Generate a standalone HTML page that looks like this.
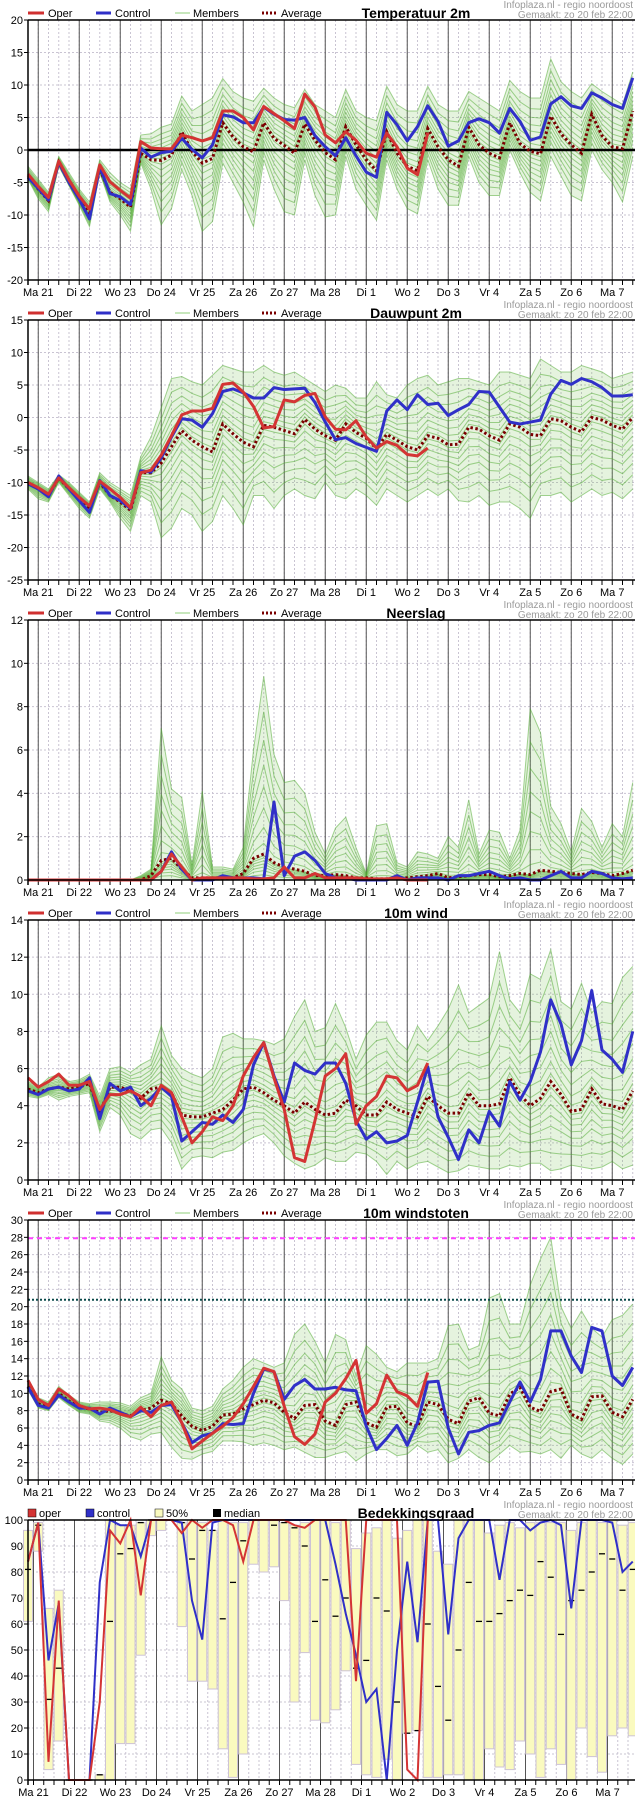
<!DOCTYPE html>
<html><head><meta charset="utf-8">
<style>
html,body{margin:0;padding:0;background:#fff;}
svg{display:block;font-family:"Liberation Sans",sans-serif;}
</style></head>
<body>
<svg id="chart" xmlns="http://www.w3.org/2000/svg" width="635" height="1800" viewBox="0 0 635 1800"></svg>
<script>
const dayLabels = ["Ma 21","Di 22","Wo 23","Do 24","Vr 25","Za 26","Zo 27","Ma 28","Di 1","Wo 2","Do 3","Vr 4","Za 5","Zo 6","Ma 7"];

const tempTicks = [20,15,10,5,0,-5,-10,-15,-20];
const tempOper = [-3.7,-5.6,-7.3,-1.7,-4.6,-7.1,-9.1,-2.3,-4.9,-6.2,-7.4,1.3,0.3,0.2,0.2,2.3,1.9,1.4,1.9,6,6,5,3.1,6.7,5.6,4.5,3.3,8.6,6.6,2.3,1.1,2.8,1.5,-0.5,-1.1,2.6,0.5,-2.8,-3.8,2.6];
const tempControl = [-4.2,-5.9,-7.7,-1.9,-5,-7.6,-10.6,-2.6,-6.7,-7.2,-8.4,0.3,-1.1,-0.4,-0.2,1.8,0.1,-1.2,0.8,5.4,5.1,4.2,4.2,6.6,5.5,4.7,4.6,5.0,2.2,0.5,-0.9,1.9,-0.9,-3.4,-4.2,5.8,3.9,1.4,3.6,6.8,4.4,0.6,1.4,4.2,4.8,4.2,2.6,6.4,4.4,1.5,2.0,7.1,8.2,6.8,6.4,8.8,8.0,7.0,6.4,11.1];
const tempAvg = [-4,-6,-7.8,-1.9,-5,-7.5,-10,-3,-6.5,-7.5,-8.8,-0.5,-1.5,-1.6,-0.8,2.8,-0.2,-2,-1.3,4.2,2.0,0.5,-0.3,4.2,1.8,0.7,-0.5,4.0,1.5,-0.4,-1.5,3.6,0.8,-1.5,-3.2,2.8,-0.5,-2.5,-3.2,3.3,0.5,-1.5,-2.5,3.5,0.8,-0.5,-1.2,4.2,1.0,-0.2,-0.6,5.2,2.5,0.8,-0.5,5.5,2.2,0.5,0.2,6.0];
const tempHi = [-2.5,-4.5,-6.5,-1,-3.5,-6,-8,-1.5,-3.5,-5,-6,2.3,2.5,3.5,4,8.3,6,7,8,11,9,8,7.5,9.5,8,7,6.5,9.3,7,6,5,9.3,6,5,4.5,9.8,7,6,6,9.8,7,6,6,9,8,7,6,10.7,9,8,8,14,10.5,9,8,10.2,9,8,7,12];
const tempLo = [-4.5,-7.5,-9.5,-2.5,-5.5,-8.5,-11.8,-3.5,-8,-10,-12.5,-2,-6,-11.5,-9,-3,-7,-12.5,-11,-2,-5,-8,-11.8,-1.5,-6,-9.5,-10,-1.5,-7,-10.3,-10,-1,-6,-8.5,-10.8,-1.5,-6,-9,-9.8,-1.5,-6,-8.5,-8.5,-1,-5,-7,-7,0,-3.5,-6.5,-7.8,-1,-4,-7,-7.8,0,-3,-5,-8,-1];

const dewTicks = [15,10,5,0,-5,-10,-15,-20,-25];
const dewOper = [-10,-10.8,-11.8,-9.3,-10.8,-12.3,-13.6,-9.8,-11,-12.3,-13.9,-8.5,-8.1,-5.8,-2.8,0.4,1.0,1.0,1.4,5.1,5.3,3.9,1.7,-1.6,-1.4,2.7,2.4,3.4,3.7,0.1,-1.8,-1.9,-0.5,-3,-4.7,-3.7,-4.3,-5.7,-5.9,-4.7];
const dewControl = [-10.2,-11,-12.2,-9,-11,-12.8,-14.6,-9.7,-12,-12.8,-14,-8.2,-8.4,-6.2,-3,-0.2,-0.4,-1.5,0.6,4.0,4.4,3.8,3.0,3.0,4.6,4.3,4.4,4.5,2.3,-0.7,-3.4,-3.1,-4,-4.6,-5.2,1.0,2.7,1.2,3.5,2.0,2.2,0.3,1.2,2.0,4.0,3.9,1.6,-0.7,-1.0,-0.7,-0.4,3.6,5.7,5.1,6.0,5.5,4.6,3.3,3.3,3.5];
const dewAvg = [-10,-11,-12,-9.3,-11,-12.5,-14,-10,-12,-13,-14.3,-8.5,-8.5,-7,-4.5,-2,-3.5,-4.5,-5.3,-1,-2.5,-3.8,-4.5,-1.2,-1.5,-2,-2.5,-0.3,-1.8,-2.8,-3.5,-1.0,-2.3,-3.2,-4.8,-2.6,-3.5,-4.5,-5,-2.8,-3.2,-4.2,-4.1,-1.5,-1.8,-2.8,-3.5,-1.0,-1.5,-2.6,-2.8,-0.2,-0.5,-1.5,-2.2,0,-0.4,-1.2,-1.8,0];
const dewHi = [-9,-10,-11,-8.8,-10,-11.5,-13,-8.5,-10,-11,-12,-6,-3,1.5,6,6.3,5.5,5,6.5,8,7.5,7,7,8,7,6.5,7,6,5,4,5,4.5,3,3,5.5,3.5,3,5,6,6.5,5,5.5,6,6,5.5,5,7,7,6.5,6,9,8,7,7,8,7.5,7,6,6.5,7];
const dewLo = [-11,-12.5,-13,-10,-12,-14,-15.5,-11,-13,-15.5,-17.5,-12,-13,-18.5,-17,-14,-15,-17.5,-16,-12,-14,-16.5,-12,-12,-14,-12,-11,-12,-12.5,-10,-12,-12.5,-11,-12,-13.5,-11,-12,-13,-12,-11,-12,-11,-12.8,-13,-12,-13.5,-13,-13,-14,-15.5,-12,-12,-11.5,-13,-12,-11,-12,-11.5,-12.5,-11];

const rainTicks = [12,10,8,6,4,2,0];
const rainOper = [0,0,0,0,0,0,0,0,0,0,0,0,0,0.4,1.2,0.6,0,0.1,0.1,0.1,0.1,0.1,0.05,0.05,0.1,0.6,0.1,0.1,0.3,0.1,0.1,0.1,0.1,0.05,0.05,0.05,0.1,0,0,0];
const rainControl = [0,0,0,0,0,0,0,0,0,0,0,0,0,0.4,1.3,0.5,0,0,0,0.2,0.1,0.1,0.1,0.05,3.6,0.2,1.1,1.3,0.9,0.3,0.1,0.1,0,0,0,0,0.2,0,0.1,0.1,0.1,0,0.2,0.2,0.3,0.4,0.2,0.05,0.1,0,0,0.2,0.4,0.1,0.1,0.4,0.3,0.1,0.05,0.1];
const rainAvg = [0,0,0,0,0,0,0,0,0,0,0,0,0.2,0.9,1.0,0.5,0.1,0.1,0.1,0.1,0.1,0.3,1.0,1.2,0.8,0.6,0.5,0.4,0.2,0.2,0.25,0.2,0.1,0.1,0.05,0.05,0.1,0.1,0.15,0.2,0.3,0.1,0.15,0.2,0.25,0.25,0.15,0.2,0.3,0.25,0.45,0.4,0.35,0.3,0.25,0.35,0.3,0.2,0.3,0.45];
const rainHi = [0,0,0,0,0,0,0,0,0,0,0,0.2,0.5,7,4.2,3.8,0.7,4.1,0.6,0.6,0.5,1.5,6,9.4,5.8,4.5,4.6,4.0,2.2,1.2,2.4,2.9,1.5,0.3,2.5,2.6,0.8,0.6,1.3,1.2,1.0,2.0,1.5,3.7,1.2,2.3,2.2,1.0,2.3,7.9,6.8,3.4,2.6,1.3,3.3,2.7,1.5,2.6,2.0,4.5];
const rainLo = [0,0,0,0,0,0,0,0,0,0,0,0,0,0,0,0,0,0,0,0,0,0,0,0,0,0,0,0,0,0,0,0,0,0,0,0,0,0,0,0,0,0,0,0,0,0,0,0,0,0,0,0,0,0,0,0,0,0,0,0];

const windTicks = [14,12,10,8,6,4,2,0];
const windOper = [5.5,5.0,5.3,5.7,5.1,5.1,5.3,3.8,4.6,4.6,4.8,4.5,4.0,5.1,4.7,3.4,2.0,2.6,3.4,3.2,4.0,5.6,6.6,7.4,5.5,3.8,1.2,1.0,3.2,5.6,6.0,6.8,3.0,4.0,4.5,5.6,5.5,4.8,5.1,6.3];
const windControl = [4.8,4.6,4.9,5.0,4.8,4.9,5.5,3.3,5.2,4.8,5.0,4.0,4.4,5.0,4.5,2.1,2.6,3.1,3.0,3.5,3.1,3.8,6.2,7.4,5.6,4.2,6.3,5.9,5.7,6.3,6.3,5.2,3.2,2.2,2.6,2.0,2.1,2.4,4.2,6.1,3.4,2.3,1.1,2.7,2.0,3.7,2.9,5.3,4.3,5.3,6.9,9.7,8.4,6.2,7.5,10.2,7.0,6.5,5.8,8.0];
const windAvg = [4.9,4.7,4.9,5.0,4.9,5.0,5.2,3.6,5.0,5.0,4.8,4.4,4.9,5.0,4.7,3.5,3.4,3.4,3.6,3.8,4.3,4.9,5.0,4.7,4.3,4.0,3.6,4.2,3.8,3.5,3.6,4.3,4.0,3.5,3.5,4.2,3.8,3.6,3.4,4.5,4.0,3.6,3.6,4.7,4.0,4.0,4.1,5.5,4.6,4.0,4.4,5.3,4.6,3.7,3.8,4.9,4.1,4.0,3.8,4.8];
const windHi = [5.3,5.0,5.5,5.7,5.3,5.4,5.7,4.5,6.0,6.1,5.8,6.2,6.5,8.3,6.7,6.0,5.7,5.5,6.0,7.7,7.9,7.6,7.6,7.5,7.3,7.6,8.8,9.7,8.0,8.2,9.5,8.2,6.5,7.8,8.5,8.5,7.5,7.0,8.3,7.5,8.3,9.2,10.5,9.0,9.4,9.8,12.3,9.7,9.0,11.1,10.8,12.4,9.6,9.2,10.6,9.0,9.6,9.5,10.9,11.5];
const windLo = [4.5,4.4,4.6,4.3,4.5,4.6,4.7,2.6,3.9,3.5,2.5,2.2,2.7,2.8,2.0,0.6,1.2,1.3,1.2,1.5,1.6,2.0,2.3,2.5,2.0,1.3,0.9,0.6,0.8,1.2,1.0,1.0,1.5,1.4,1.0,0.3,1.0,0.6,0.9,1.0,0.7,0.4,0.5,0.8,0.7,0.6,0.6,0.8,0.7,0.9,0.9,0.5,0.6,0.8,0.7,0.6,0.7,1.0,0.6,0.8];

const gustTicks = [30,28,26,24,22,20,18,16,14,12,10,8,6,4,2,0];
const gustWarnLevels = [27.9, 20.8];
const gustOper = [11.5,9.3,8.6,10.5,9.7,8.6,8.2,8.3,8.1,7.6,7.3,8.4,7.3,8.6,9.0,6.6,3.6,4.5,5.4,6.2,7.2,8.8,10.8,12.9,12.5,8.5,5.0,4.1,5.3,9.0,10.0,11.7,13.8,7.7,8.8,12.1,10.2,9.7,8.5,12.4];
const gustControl = [10.7,8.6,8.3,9.8,9.0,8.3,8.3,7.6,8.3,7.8,7.3,8.0,7.8,8.6,8.7,6.6,4.3,5.1,5.4,6.5,6.4,6.5,10.0,12.8,12.5,9.3,10.9,11.6,10.5,10.5,10.7,10.4,10.3,6.2,3.5,4.8,6.3,4.0,6.6,11.3,11.4,6.0,3.0,5.5,5.7,6.3,6.6,9.0,11.3,9.0,11.6,17.2,17.2,14.3,12.4,17.6,17.2,12.0,10.9,13.0];
const gustAvg = [10.8,8.8,8.4,10.0,9.1,8.4,8.2,7.8,8.0,7.7,7.4,8.0,8.3,9.2,8.8,7.4,6.2,5.7,6.2,7.5,7.6,8.2,8.7,9.2,8.9,7.8,7.1,8.6,8.7,6.8,6.3,8.7,9.0,6.6,6.1,8.4,8.5,6.6,6.2,9.0,8.7,7.0,6.5,9.1,9.5,7.7,7.4,9.9,10.7,8.4,7.9,10.2,10.5,7.6,7.0,9.6,9.7,7.8,7.3,9.3];
const gustHi = [11.5,9.5,9.0,10.8,9.8,9.0,8.8,9.0,9.0,8.9,8.5,9.5,10.0,14.2,11.5,10.5,8.3,8.0,8.5,10.5,11.5,13.0,14.0,13.5,13.0,13.5,16.8,18.0,16.0,13.5,16.8,16.2,12.0,15.5,14.5,13.0,12.5,13.5,13.5,13.5,14.0,17.8,18.0,15.0,15.5,21.0,21.5,18.0,18.0,22.5,25.5,28.0,20.0,17.5,19.5,17.5,16.5,18.5,19.0,20.3];
const gustLo = [10.4,8.3,8.0,9.5,8.6,7.8,7.6,6.8,6.6,6.0,5.0,4.6,5.3,5.5,3.8,2.5,2.4,3.0,3.3,4.5,4.5,4.4,4.0,4.3,4.0,3.5,3.8,3.2,2.6,2.6,3.0,3.3,2.2,3.0,3.5,3.5,2.8,3.0,4.0,3.2,3.5,2.0,2.5,3.5,2.6,2.0,3.0,4.0,3.2,3.3,3.0,3.5,2.5,4.0,3.0,2.5,3.5,2.5,1.8,3.0];

const cloudTicks = [100,90,80,70,60,50,40,30,20,10,0];
const cloudQ1 = [61,88,4,15,0,0,0,0,0,14,14,48,94,96,100,59,38,38,35,12,1,10,83,80,82,69,30,49,23,22,27,42,6,2,1,8,0,18,19,1,1,2,2,0,0,12,5,4,15,10,1,12,6,0,20,9,3,17,20,17];
const cloudQ3 = [96,99,66,73,0,0,0,2,100,98,98,99,100,100,100,99,100,99,96,100,99,99,100,100,100,99,98,99,100,100,99,100,89,95,97,100,93,96,100,100,88,83,100,100,100,95,98,99,97,99,99,99,99,96,99,100,99,100,98,99];
const cloudMed = [81,98,31,43,0,0,0,2,61,87,89,99,100,100,100,99,85,96,96,62,76,92,100,100,98,99,97,90,61,77,63,70,43,46,70,65,30,18,19,60,36,23,50,76,61,61,64,69,73,71,84,78,56,69,73,80,87,85,73,81];
const cloudOper = [84,99,7,69,0,0,0,30,96,91,100,71,100,100,100,95,100,97,100,100,98,84,100,100,100,100,98,97,100,100,100,100,38,100,100,100,100,4,0,100];
const cloudControl = [84,99,46,68,0,0,0,76,100,98,98,86,100,100,100,99,69,54,99,100,100,100,100,100,100,100,100,100,100,100,83,64,48,30,35,0,50,84,53,100,100,56,93,100,100,100,77,100,100,96,99,100,98,66,100,100,100,99,80,84];

const NS = "http://www.w3.org/2000/svg";
const svg = document.getElementById("chart");
const X0 = 28, DX = 10.25, XR = 635, PH = 260;
function xi(i){ return X0 + DX*i; }
function mk(tag, attrs, parent){
  const e = document.createElementNS(NS, tag);
  for (const k in attrs) e.setAttribute(k, attrs[k]);
  (parent||svg).appendChild(e);
  return e;
}
function txt(s, x, y, attrs, parent){
  const t = mk("text", Object.assign({x:x, y:y, "font-size":11, fill:"#000"}, attrs), parent);
  t.textContent = s;
  return t;
}

function frame(p){
  const g = mk("g", {});
  
  
  const top = p.base + 20, bot = top + PH;
  const ys = v => top + (p.max - v)/(p.max - p.min)*PH;
  p.ys = ys; p.top = top; p.bot = bot;
  const grid = mk("g", {}, g);
  
  
  for (let x = p.dayOff - DX*Math.floor((p.dayOff - X0)/DX); x < XR; x += DX) {
    if (x <= X0 + 0.5) continue;
    mk("line", {x1:x, y1:top, x2:x, y2:bot, stroke:"#c9c4d2", "stroke-dasharray":"2,2", "stroke-width":1}, grid);
    mk("line", {x1:x, y1:bot, x2:x, y2:bot+5, stroke:"#000", "stroke-width":1}, grid);
  }
  p.ticks.forEach(v => {
    const y = ys(v);
    mk("line", {x1:X0, y1:y, x2:XR, y2:y, stroke:"#c9c4d2", "stroke-dasharray":"2,2", "stroke-width":1}, grid);
    mk("line", {x1:X0-4, y1:y, x2:X0, y2:y, stroke:"#000"}, grid);
    const t = txt(String(v), X0-5, y+4, {"text-anchor":"end", "font-size":11}, g);
    
    
  });
  dayLabels.forEach((d, k) => {
    const x = p.dayOff + 41*k;
    mk("line", {x1:x, y1:top, x2:x, y2:bot, stroke:"#555", "stroke-width":1}, grid);
    const t = txt(d, x, bot+16, {"text-anchor":"middle", "font-size":11}, g);
    
    
  });
  const h1 = txt("Infoplaza.nl - regio noordoost", 633, p.base+8, {"text-anchor":"end", "font-size":10, fill:"#9a9a9a"}, g);
  
  
  const h2 = txt("Gemaakt: zo 20 feb 22:00", 633, p.base+18, {"text-anchor":"end", "font-size":10, fill:"#9a9a9a"}, g);
  
  
  const tt = txt(p.title, 416, p.base+18, {"text-anchor":"middle", "font-size":14, "font-weight":"bold", "font-family":"'Liberation Sans Narrow','Liberation Sans',sans-serif"}, g);
  
  
  return g;
}
function axes(p, g){
  mk("line", {x1:X0, y1:p.top, x2:XR, y2:p.top, stroke:"#000", "stroke-width":1.5}, g);
  mk("line", {x1:X0, y1:p.bot, x2:XR, y2:p.bot, stroke:"#000", "stroke-width":1.5}, g);
  mk("line", {x1:X0, y1:p.top, x2:X0, y2:p.bot+5, stroke:"#000", "stroke-width":1.5}, g);
}
function path(arr, ys){
  return arr.map((v,i) => (i?"L":"M") + xi(i).toFixed(2) + "," + ys(v).toFixed(2)).join(" ");
}
function legend(p, g){
  const y = p.base + 13;
  const lg = mk("g", {}, g);
  
  
  mk("line", {x1:28, y1:y, x2:44, y2:y, stroke:"#d03030", "stroke-width":3}, lg);
  txt("Oper", 48, y+4, {}, lg);
  mk("line", {x1:96, y1:y, x2:111, y2:y, stroke:"#3030c8", "stroke-width":3}, lg);
  txt("Control", 115, y+4, {}, lg);
  mk("line", {x1:175, y1:y, x2:190, y2:y, stroke:"#8fcf78", "stroke-width":1}, lg);
  txt("Members", 193, y+4, {}, lg);
  mk("line", {x1:262, y1:y, x2:277, y2:y, stroke:"#7a0000", "stroke-width":3, "stroke-dasharray":"2,2"}, lg);
  txt("Average", 281, y+4, {}, lg);
}
function linePanel(p, oper, control, avg, hi, lo){
  const g = frame(p);
  const ys = p.ys;
  const band = path(hi, ys) + " " + lo.map((v,i)=>({v,i})).reverse().map(o => "L" + xi(o.i).toFixed(2) + "," + ys(o.v).toFixed(2)).join(" ") + " Z";
  const env = mk("path", {d:band, fill:"#7cc55a", "fill-opacity":0.2, stroke:"none"}, g);
  
  
  const mg = mk("g", {fill:"none", stroke:"#4aa82a", "stroke-width":1, "stroke-opacity":0.5}, g);
  
  
  [0.06,0.15,0.26,0.38,0.5,0.64,0.8,1].forEach(f => {
    const up = avg.map((a,i) => a + f*(hi[i]-a));
    const dn = avg.map((a,i) => a + f*(lo[i]-a));
    const l1 = mk("path", {d:path(up, ys)}, mg);
    
    
    const l2 = mk("path", {d:path(dn, ys)}, mg);
    
    
  });
  if (p.zeroLine) {
    const z = mk("line", {x1:X0, y1:ys(0), x2:XR, y2:ys(0), stroke:"#000", "stroke-width":2.5}, g);
    
    
  }
  if (p.refs) p.refs.forEach((v,k) => {
    const r = mk("line", {x1:X0, y1:ys(v), x2:XR, y2:ys(v), stroke:k? "#0b4a4a" : "#ff40ff", "stroke-width":2, "stroke-dasharray":k? "2,2" : "5,4"}, g);
    
    
  });
  const a = mk("path", {d:path(avg, ys), fill:"none", stroke:"#7a0000", "stroke-width":3, "stroke-dasharray":"2.5,2.5"}, g);
  
  
  const c = mk("path", {d:path(control, ys), fill:"none", stroke:"#3030c8", "stroke-width":3, "stroke-linejoin":"round"}, g);
  
  
  const o = mk("path", {d:path(oper, ys), fill:"none", stroke:"#d43434", "stroke-width":3, "stroke-linejoin":"round"}, g);
  
  
  axes(p, g);
  legend(p, g);
}

linePanel({key:"temperature", base:0, min:-20, max:20, ticks:tempTicks, title:"Temperatuur 2m", dayOff:38.25, zeroLine:true}, tempOper, tempControl, tempAvg, tempHi, tempLo);
linePanel({key:"dewpoint", base:300, min:-25, max:15, ticks:dewTicks, title:"Dauwpunt 2m", dayOff:38.25}, dewOper, dewControl, dewAvg, dewHi, dewLo);
linePanel({key:"precipitation", base:600, min:0, max:12, ticks:rainTicks, title:"Neerslag", dayOff:38.25}, rainOper, rainControl, rainAvg, rainHi, rainLo);
linePanel({key:"wind", base:900, min:0, max:14, ticks:windTicks, title:"10m wind", dayOff:38.25}, windOper, windControl, windAvg, windHi, windLo);
linePanel({key:"gusts", base:1200, min:0, max:30, ticks:gustTicks, title:"10m windstoten", dayOff:38.25, refs:gustWarnLevels}, gustOper, gustControl, gustAvg, gustHi, gustLo);

(function(){
  const p = {key:"cloud-cover", base:1500, min:0, max:100, ticks:cloudTicks, title:"Bedekkingsgraad", dayOff:33.5};
  const g = frame(p);
  const ys = p.ys;
  const bg = mk("g", {}, g);
  
  
  cloudQ1.forEach((q1, i) => {
    const q3 = cloudQ3[i];
    const x = xi(i) - 4.5;
    if (q3 > q1) {
      const r = mk("rect", {x:x, y:ys(q3), width:9, height:ys(q1)-ys(q3), fill:"#fafabf", stroke:"#cdc3d6", "stroke-width":1}, bg);
      
      
    }
    const m = mk("line", {x1:x+1.5, y1:ys(cloudMed[i]), x2:x+7.5, y2:ys(cloudMed[i]), stroke:"#000", "stroke-width":1.3}, bg);
    
    
  });
  const c = mk("path", {d:path(cloudControl, ys), fill:"none", stroke:"#3030c8", "stroke-width":2}, g);
  
  
  const o = mk("path", {d:path(cloudOper, ys), fill:"none", stroke:"#d43434", "stroke-width":2}, g);
  
  
  axes(p, g);
  const y = p.base + 13;
  const lg = mk("g", {}, g);
  
  
  mk("rect", {x:28, y:y-4, width:8, height:8, fill:"#d43434", stroke:"#000", "stroke-width":0.5}, lg);
  txt("oper", 39, y+4, {}, lg);
  mk("rect", {x:86, y:y-4, width:8, height:8, fill:"#3030c8", stroke:"#000", "stroke-width":0.5}, lg);
  txt("control", 97, y+4, {}, lg);
  mk("rect", {x:155, y:y-4, width:8, height:8, fill:"#fafabf", stroke:"#000", "stroke-width":0.5}, lg);
  txt("50%", 166, y+4, {}, lg);
  mk("rect", {x:213, y:y-4, width:8, height:8, fill:"#000"}, lg);
  txt("median", 224, y+4, {}, lg);
})();
</script>
</body></html>
